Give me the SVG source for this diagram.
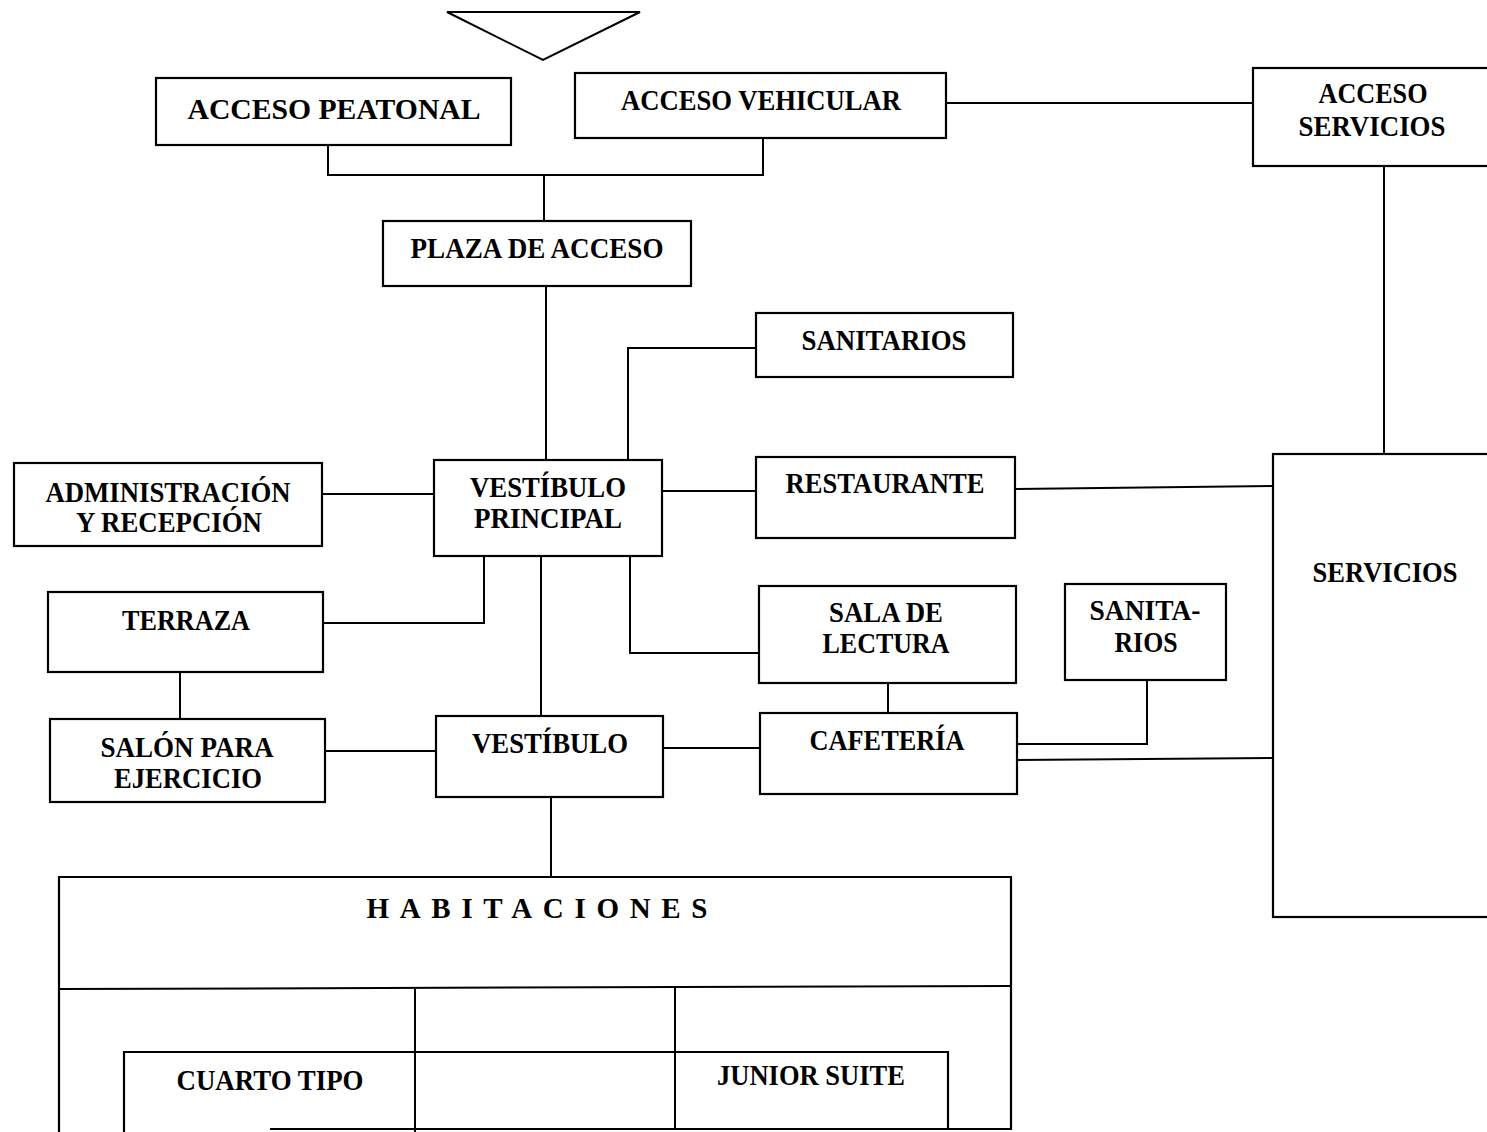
<svg xmlns="http://www.w3.org/2000/svg" width="1487" height="1132" viewBox="0 0 1487 1132">
<style>
.box{fill:none;stroke:#000;stroke-width:2.2}
.ln{fill:none;stroke:#000;stroke-width:2}
text{font-family:"Liberation Serif","Times New Roman",serif;font-weight:bold;font-size:29px;fill:#000;text-anchor:middle}
</style>
<rect width="1487" height="1132" fill="#fff"/>
<g id="connectors">
<polygon class="ln" points="447,12 640,12 543,60"/>
<polyline class="ln" points="328,145 328,175 763,175 763,138"/>
<line class="ln" x1="544" y1="175" x2="544" y2="221"/>
<line class="ln" x1="946" y1="103" x2="1253" y2="103"/>
<line class="ln" x1="1384" y1="166" x2="1384" y2="454"/>
<line class="ln" x1="546" y1="286" x2="546" y2="460"/>
<polyline class="ln" points="756,348 628,348 628,460"/>
<line class="ln" x1="322" y1="494" x2="434" y2="494"/>
<line class="ln" x1="662" y1="491" x2="756" y2="491"/>
<line class="ln" x1="1015" y1="489" x2="1273" y2="486"/>
<polyline class="ln" points="484,556 484,623 323,623"/>
<line class="ln" x1="541" y1="556" x2="541" y2="716"/>
<polyline class="ln" points="630,556 630,653 759,653"/>
<line class="ln" x1="180" y1="672" x2="180" y2="719"/>
<line class="ln" x1="325" y1="751" x2="436" y2="751"/>
<line class="ln" x1="663" y1="748" x2="760" y2="748"/>
<line class="ln" x1="888" y1="683" x2="888" y2="713"/>
<polyline class="ln" points="1017,744 1147,744 1147,680"/>
<line class="ln" x1="1017" y1="760" x2="1274" y2="758"/>
<line class="ln" x1="551" y1="797" x2="551" y2="876"/>
</g>
<g id="acceso-peatonal"><rect class="box" x="156" y="78" width="355" height="67"/><text x="334" y="119" font-size="32" textLength="293" lengthAdjust="spacingAndGlyphs">ACCESO PEATONAL</text></g>
<g id="acceso-vehicular"><rect class="box" x="575" y="73" width="371" height="65"/><text x="761" y="110" font-size="26" textLength="280" lengthAdjust="spacingAndGlyphs">ACCESO VEHICULAR</text></g>
<g id="acceso-servicios"><rect class="box" x="1253" y="68" width="250" height="98"/><text x="1373" y="103" textLength="109" lengthAdjust="spacingAndGlyphs">ACCESO</text><text x="1372" y="136" textLength="147" lengthAdjust="spacingAndGlyphs">SERVICIOS</text></g>
<g id="plaza-de-acceso"><rect class="box" x="383" y="221" width="308" height="65"/><text x="537" y="258" textLength="253" lengthAdjust="spacingAndGlyphs">PLAZA DE ACCESO</text></g>
<g id="sanitarios-1"><rect class="box" x="756" y="313" width="257" height="64"/><text x="884" y="350" textLength="165" lengthAdjust="spacingAndGlyphs">SANITARIOS</text></g>
<g id="administracion"><rect class="box" x="14" y="463" width="308" height="83"/><text x="168" y="502" textLength="245" lengthAdjust="spacingAndGlyphs">ADMINISTRACIÓN</text><text x="169" y="532" textLength="186" lengthAdjust="spacingAndGlyphs">Y RECEPCIÓN</text></g>
<g id="vestibulo-principal"><rect class="box" x="434" y="460" width="228" height="96"/><text x="548" y="497" textLength="156" lengthAdjust="spacingAndGlyphs">VESTÍBULO</text><text x="548" y="528" textLength="148" lengthAdjust="spacingAndGlyphs">PRINCIPAL</text></g>
<g id="restaurante"><rect class="box" x="756" y="457" width="259" height="81"/><text x="885" y="493" textLength="199" lengthAdjust="spacingAndGlyphs">RESTAURANTE</text></g>
<g id="servicios"><rect class="box" x="1273" y="454" width="230" height="463"/><text x="1385" y="582" textLength="145" lengthAdjust="spacingAndGlyphs">SERVICIOS</text></g>
<g id="terraza"><rect class="box" x="48" y="592" width="275" height="80"/><text x="186" y="630" textLength="128" lengthAdjust="spacingAndGlyphs">TERRAZA</text></g>
<g id="sala-de-lectura"><rect class="box" x="759" y="586" width="257" height="97"/><text x="886" y="622" textLength="114" lengthAdjust="spacingAndGlyphs">SALA DE</text><text x="886" y="653" textLength="127" lengthAdjust="spacingAndGlyphs">LECTURA</text></g>
<g id="sanitarios-2"><rect class="box" x="1065" y="584" width="161" height="96"/><text x="1145" y="620" textLength="111" lengthAdjust="spacingAndGlyphs">SANITA-</text><text x="1146" y="652" textLength="63" lengthAdjust="spacingAndGlyphs">RIOS</text></g>
<g id="salon-ejercicio"><rect class="box" x="50" y="719" width="275" height="83"/><text x="187" y="757" textLength="173" lengthAdjust="spacingAndGlyphs">SALÓN PARA</text><text x="188" y="788" textLength="148" lengthAdjust="spacingAndGlyphs">EJERCICIO</text></g>
<g id="vestibulo"><rect class="box" x="436" y="716" width="227" height="81"/><text x="550" y="753" textLength="156" lengthAdjust="spacingAndGlyphs">VESTÍBULO</text></g>
<g id="cafeteria"><rect class="box" x="760" y="713" width="257" height="81"/><text x="887" y="750" textLength="155" lengthAdjust="spacingAndGlyphs">CAFETERÍA</text></g>
<g id="habitaciones">
<path class="box" d="M59,1132 V877 H1011 V1129 H270"/>
<line class="ln" x1="59" y1="989" x2="1011" y2="986"/>
<line class="ln" x1="415" y1="989" x2="415" y2="1132"/>
<line class="ln" x1="675" y1="987" x2="675" y2="1129"/>
<path class="box" d="M124,1132 V1052 H948 V1129"/>
<text x="537" y="918" font-size="34" textLength="341" lengthAdjust="spacing">HABITACIONES</text>
<text x="270" y="1090" textLength="187" lengthAdjust="spacingAndGlyphs">CUARTO TIPO</text>
<text x="811" y="1085" textLength="188" lengthAdjust="spacingAndGlyphs">JUNIOR SUITE</text>
</g>
</svg>
